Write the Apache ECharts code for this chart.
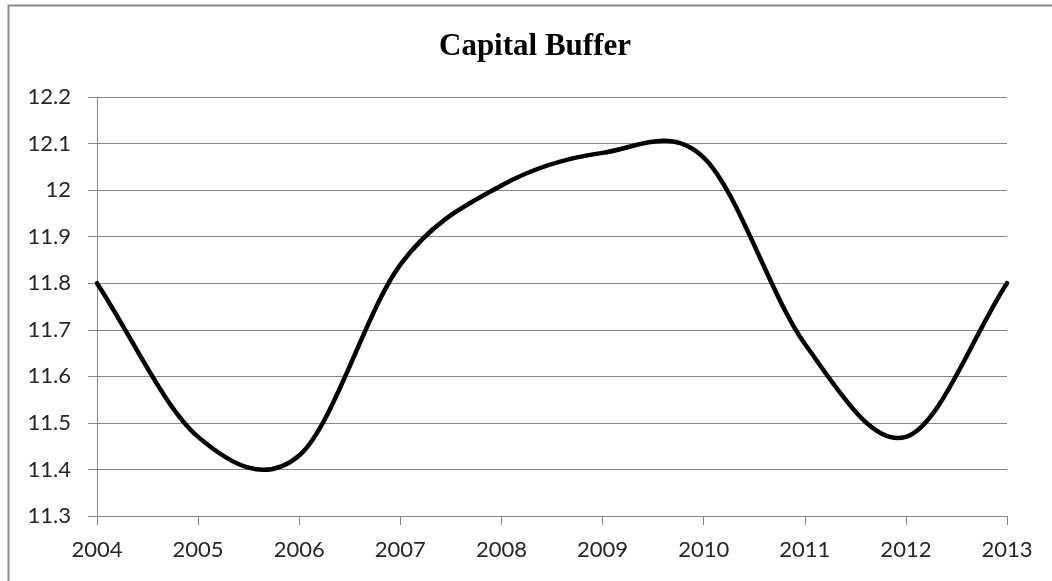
<!DOCTYPE html>
<html>
<head>
<meta charset="utf-8">
<title>Capital Buffer</title>
<script src="https://cdn.jsdelivr.net/npm/echarts@6/dist/echarts.min.js"></script>
<style>
  html, body { margin: 0; padding: 0; background: #ffffff; }
  #chart { width: 1052px; height: 581px; }
</style>
</head>
<body>
<div id="chart"></div>
<script>
// Capital buffer by year
const years = ['2004', '2005', '2006', '2007', '2008', '2009', '2010', '2011', '2012', '2013'];
const capitalBuffer = [11.8, 11.47, 11.43, 11.84, 12.01, 12.08, 12.07, 11.67, 11.47, 11.8];

// Value axis range and tick step
const yMin = 11.3;
const yMax = 12.2;
const yStep = 0.1;

const AXIS_GREY = '#868686';
const LABEL_COLOR = '#262626';

// Smoothed line through the yearly points (cardinal spline, tension 1/6),
// positioned with the chart's own axes via api.coord.
function renderCurve(params, api) {
  if (params.dataIndex !== 0) return null;
  const pts = capitalBuffer.map((v, i) => api.coord([i, v]));
  const n = pts.length;
  const at = (i) => {
    if (i < 0) return [2 * pts[0][0] - pts[1][0], 2 * pts[0][1] - pts[1][1]];
    if (i >= n) return [2 * pts[n - 1][0] - pts[n - 2][0], 2 * pts[n - 1][1] - pts[n - 2][1]];
    return pts[i];
  };
  let d = 'M' + pts[0][0] + ' ' + pts[0][1];
  for (let i = 0; i < n - 1; i++) {
    const p0 = at(i - 1), p1 = at(i), p2 = at(i + 1), p3 = at(i + 2);
    const c1x = p1[0] + (p2[0] - p0[0]) / 6;
    const c1y = p1[1] + (p2[1] - p0[1]) / 6;
    const c2x = p2[0] - (p3[0] - p1[0]) / 6;
    const c2y = p2[1] - (p3[1] - p1[1]) / 6;
    d += ' C' + c1x + ' ' + c1y + ' ' + c2x + ' ' + c2y + ' ' + p2[0] + ' ' + p2[1];
  }
  return {
    type: 'path',
    shape: { pathData: d },
    style: { fill: 'none', stroke: '#000000', lineWidth: 4.5, lineCap: 'round', lineJoin: 'round' },
    silent: true
  };
}

const chart = echarts.init(document.getElementById('chart'), null, { renderer: 'canvas' });

chart.setOption({
  backgroundColor: '#ffffff',
  animation: false,
  graphic: [
    {
      type: 'polyline',
      shape: { points: [[8.5, 581], [8.5, 5.5], [1052, 5.5]] },
      style: { stroke: '#8a8a8a', lineWidth: 2, fill: null },
      silent: true
    },
    {
      type: 'text',
      x: 535,
      y: 47,
      style: {
        text: 'Capital Buffer',
        font: 'bold 31px "Liberation Serif", "Times New Roman", serif',
        fill: '#000000',
        align: 'center',
        verticalAlign: 'middle'
      },
      silent: true
    }
  ],
  grid: { left: 97, right: 45, top: 97, bottom: 65, containLabel: false },
  xAxis: {
    type: 'category',
    data: years,
    boundaryGap: false,
    axisLine: { show: true, lineStyle: { color: AXIS_GREY, width: 1 } },
    axisTick: { show: true, length: 9, inside: false, lineStyle: { color: AXIS_GREY } },
    axisLabel: { margin: 23, color: LABEL_COLOR, fontFamily: 'Lato', fontSize: 22 },
    splitLine: { show: false }
  },
  yAxis: {
    type: 'value',
    min: yMin,
    max: yMax,
    interval: yStep,
    axisLine: { show: true, lineStyle: { color: AXIS_GREY, width: 1 } },
    axisTick: { show: true, length: 9, inside: false, lineStyle: { color: AXIS_GREY } },
    axisLabel: { margin: 26, color: LABEL_COLOR, fontFamily: 'Lato', fontSize: 22 },
    splitLine: { show: true, lineStyle: { color: AXIS_GREY, width: 1 } }
  },
  series: [
    {
      name: 'Capital Buffer',
      type: 'custom',
      coordinateSystem: 'cartesian2d',
      renderItem: renderCurve,
      encode: { x: 0, y: 1 },
      data: capitalBuffer.map((v, i) => [i, v]),
      clip: false,
      z: 3
    }
  ]
});
</script>
</body>
</html>
